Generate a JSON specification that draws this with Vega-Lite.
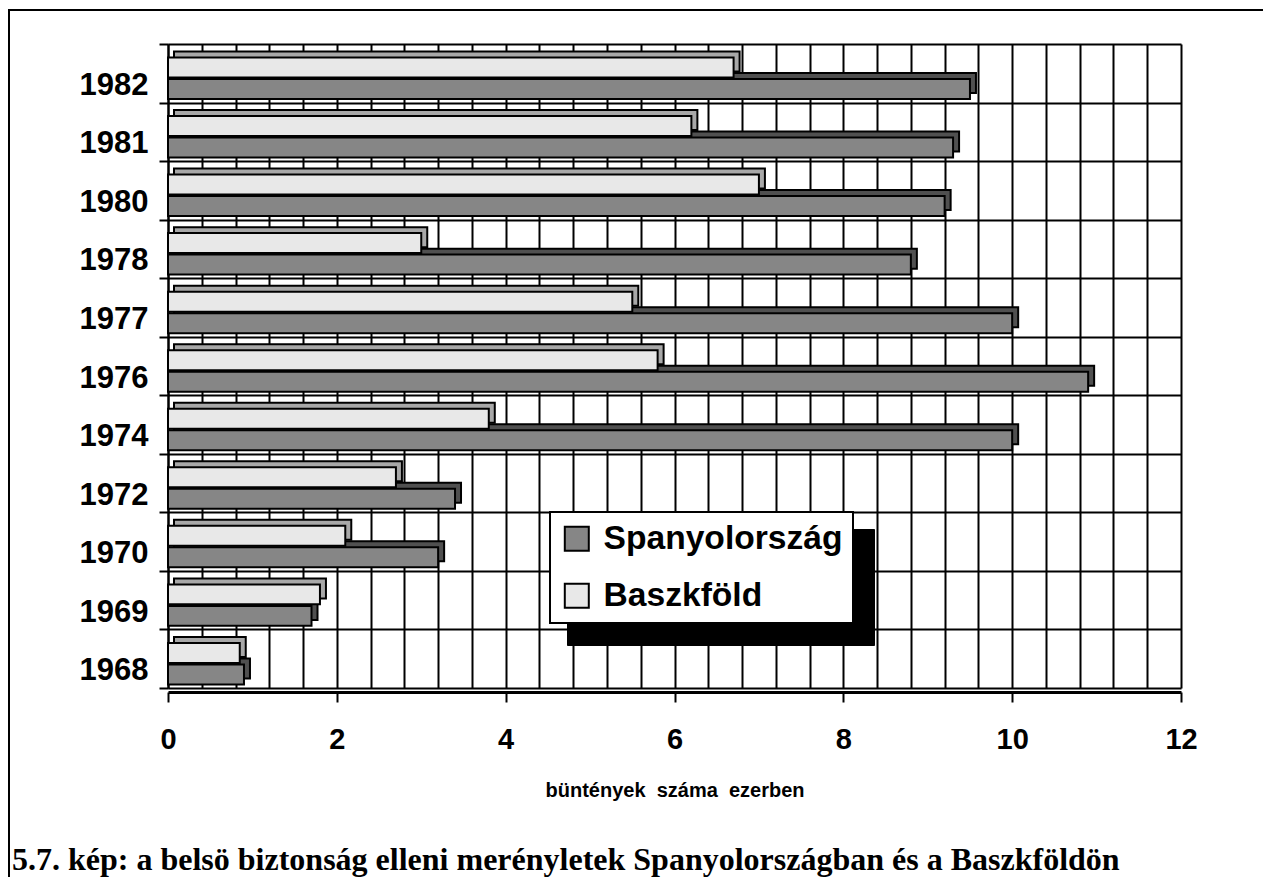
{
  "$schema": "https://vega.github.io/schema/vega-lite/v6.json",
  "width": 1254,
  "height": 867,
  "autosize": {"type": "none"},
  "padding": {"left": 9, "top": 10, "right": 0, "bottom": 0},
  "background": "white",
  "config": {
    "font": "Liberation Sans",
    "view": {"stroke": "black", "strokeWidth": 2, "strokeDash": [1254, 2121, 867]}
  },
  "title": {
    "text": "5.7. kép: a belsö biztonság elleni merényletek Spanyolországban és a Baszkföldön",
    "orient": "bottom",
    "anchor": "start",
    "frame": "group",
    "offset": -7,
    "baseline": "alphabetic",
    "dx": 3,
    "font": "Liberation Serif",
    "fontSize": 32,
    "fontWeight": "bold",
    "color": "black"
  },
  "datasets": {
    "attacks": [
      {"year": "1982", "series": "Baszkföld", "value": 6.7},
      {"year": "1982", "series": "Spanyolország", "value": 9.5},
      {"year": "1981", "series": "Baszkföld", "value": 6.2},
      {"year": "1981", "series": "Spanyolország", "value": 9.3},
      {"year": "1980", "series": "Baszkföld", "value": 7.0},
      {"year": "1980", "series": "Spanyolország", "value": 9.2},
      {"year": "1978", "series": "Baszkföld", "value": 3.0},
      {"year": "1978", "series": "Spanyolország", "value": 8.8},
      {"year": "1977", "series": "Baszkföld", "value": 5.5},
      {"year": "1977", "series": "Spanyolország", "value": 10.0},
      {"year": "1976", "series": "Baszkföld", "value": 5.8},
      {"year": "1976", "series": "Spanyolország", "value": 10.9},
      {"year": "1974", "series": "Baszkföld", "value": 3.8},
      {"year": "1974", "series": "Spanyolország", "value": 10.0},
      {"year": "1972", "series": "Baszkföld", "value": 2.7},
      {"year": "1972", "series": "Spanyolország", "value": 3.4},
      {"year": "1970", "series": "Baszkföld", "value": 2.1},
      {"year": "1970", "series": "Spanyolország", "value": 3.2},
      {"year": "1969", "series": "Baszkföld", "value": 1.8},
      {"year": "1969", "series": "Spanyolország", "value": 1.7},
      {"year": "1968", "series": "Baszkföld", "value": 0.85},
      {"year": "1968", "series": "Spanyolország", "value": 0.9}
    ],
    "legendShadow": [
      {"s": "Spanyolország"},
      {"s": "Baszkföld"}
    ]
  },
  "data": {"name": "attacks"},
  "layer": [
    {
      "mark": {"type": "bar", "xOffset": 6, "x2Offset": 6, "stroke": "black", "strokeWidth": 2},
      "encoding": {
        "x": {
          "field": "value", "type": "quantitative",
          "scale": {"domain": [0, 12], "range": [159, 1172], "nice": false, "zero": true},
          "axis": {
            "orient": "top", "offset": 0,
            "values": [0,0.4,0.8,1.2,1.6,2,2.4,2.8,3.2,3.6,4,4.4,4.8,5.2,5.6,6,6.4,6.8,7.2,7.6,8,8.4,8.8,9.2,9.6,10,10.4,10.8,11.2,11.6,12],
            "domain": false, "labels": false, "ticks": false,
            "grid": true, "gridColor": "black", "gridWidth": 2, "gridOpacity": 1,
            "title": null
          }
        },
        "y": {
          "field": "year", "type": "nominal",
          "scale": {"domain": ["1982","1981","1980","1978","1977","1976","1974","1972","1970","1969","1968"], "range": [34, 678], "paddingInner": 0, "paddingOuter": 0},
          "axis": {"orient": "left", "offset": 0, "domain": false, "ticks": false, "labels": false, "grid": true, "tickBand": "extent", "gridColor": "black", "gridWidth": 2, "gridOpacity": 1, "title": null}
        },
        "yOffset": {
          "field": "series", "type": "nominal",
          "scale": {"domain": ["Baszkföld", "Spanyolország"], "paddingInner": 0.07, "paddingOuter": 0.3965, "align": 0.44}
        },
        "fill": {
          "field": "series", "type": "nominal",
          "scale": {"range": ["#a8a8a8", "#505050"]},
          "legend": null
        }
      }
    },
    {
      "mark": {"type": "bar", "stroke": "black", "strokeWidth": 2},
      "encoding": {
        "x": {
          "field": "value", "type": "quantitative",
          "scale": {"domain": [0, 12], "range": [159, 1172], "nice": false, "zero": true},
          "axis": {
            "orient": "bottom", "offset": -185,
            "values": [0,2,4,6,8,10,12],
            "domain": true, "domainColor": "black", "domainWidth": 3,
            "grid": false,
            "ticks": true, "tickColor": "black", "tickWidth": 2, "tickSize": 10,
            "format": "d",
            "labelFont": "Liberation Sans", "labelFontSize": 29, "labelFontWeight": "bold", "labelColor": "black",
            "labelPadding": 23, "labelFlush": false, "labelOverlap": false, "labelBound": false,
            "title": "büntények\u00a0 száma\u00a0 ezerben",
            "titleFont": "Liberation Sans", "titleFontSize": 20, "titleFontWeight": "bold", "titleColor": "black", "titlePadding": 26
          }
        },
        "y": {
          "field": "year", "type": "nominal",
          "scale": {"domain": ["1982","1981","1980","1978","1977","1976","1974","1972","1970","1969","1968"], "range": [34, 678], "paddingInner": 0, "paddingOuter": 0},
          "axis": {
            "orient": "left", "offset": -159,
            "domain": true, "domainColor": "black", "domainWidth": 2,
            "ticks": true, "tickBand": "extent", "tickColor": "black", "tickWidth": 2, "tickSize": 9, "tickOpacity": 1,
            "grid": false,
            "labelFont": "Liberation Sans", "labelFontSize": 31, "labelFontWeight": "bold", "labelColor": "black",
            "labelPadding": 11, "labelOffset": 12,
            "title": null
          }
        },
        "yOffset": {
          "field": "series", "type": "nominal",
          "scale": {"domain": ["Baszkföld", "Spanyolország"], "paddingInner": 0.07, "paddingOuter": 0.3965, "align": 0.79}
        },
        "color": {
          "field": "series", "type": "nominal",
          "scale": {"domain": ["Spanyolország", "Baszkföld"], "range": ["#868686", "#e8e8e8"]},
          "legend": {
            "orient": "none", "legendX": 541, "legendY": 502, "title": null,
            "fillColor": "white", "strokeColor": "black",
            "padding": 10, "rowPadding": 22, "labelOffset": 10,
            "symbolType": "square", "symbolSize": 576, "symbolStrokeColor": "black", "symbolStrokeWidth": 2, "symbolOpacity": 1,
            "labelFont": "Liberation Sans", "labelFontSize": 33.6, "labelFontWeight": "bold", "labelColor": "black", "labelLimit": 400,
            "zindex": 2,
            "encode": {"legend": {"update": {"strokeWidth": {"value": 2}}}}
          }
        }
      }
    },
    {
      "data": {"name": "legendShadow"},
      "mark": {"type": "point", "opacity": 0},
      "encoding": {
        "shape": {
          "field": "s", "type": "nominal",
          "scale": {"range": ["square", "square"]},
          "legend": {
            "orient": "none", "legendX": 558, "legendY": 519, "title": null,
            "fillColor": "black", "strokeColor": "black",
            "padding": 14, "rowPadding": 10, "labelOffset": 243,
            "symbolSize": 1156, "symbolFillColor": "black", "symbolStrokeColor": "black",
            "labelExpr": "'\u00a0'",
            "labelFont": "Liberation Sans", "labelFontSize": 34, "labelFontWeight": "bold", "labelColor": "black", "labelLimit": 400,
            "zindex": 1
          }
        }
      }
    }
  ],
  "resolve": {"scale": {"yOffset": "independent"}, "axis": {"x": "independent", "y": "independent"}}
}
